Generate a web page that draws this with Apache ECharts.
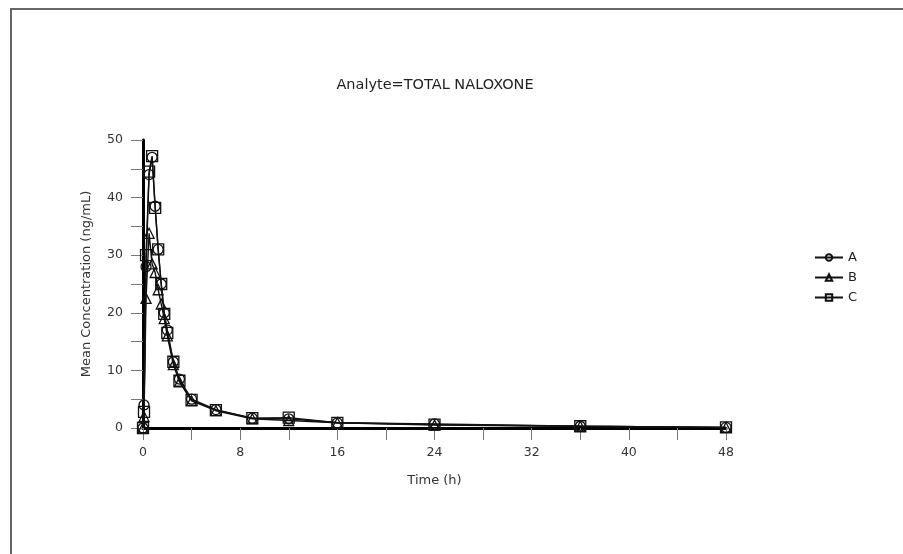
<!DOCTYPE html>
<html>
<head>
<meta charset="utf-8">
<script src="https://cdn.jsdelivr.net/npm/echarts@6/dist/echarts.min.js"></script>
<style>
  html, body { margin: 0; padding: 0; background: #fff; }
  #chart { width: 903px; height: 554px; }
</style>
</head>
<body>
<div id="chart"></div>
<script>
// Sampling times (h)
const times = [0, 0.083, 0.25, 0.5, 0.75, 1, 1.25, 1.5, 1.75, 2, 2.5, 3, 4, 6, 9, 12, 16, 24, 36, 48];

// Mean concentrations (ng/mL) per treatment
const seriesA = [0, 4.0, 28.0, 44.0, 47.0, 38.5, 31.0, 25.0, 20.0, 17.0, 11.5, 8.5, 5.0, 3.2, 1.7, 1.6, 0.9, 0.7, 0.3, 0.1];
const seriesB = [0, 2.0, 22.5, 33.8, 28.5, 27.0, 24.0, 21.5, 19.0, 16.0, 11.0, 8.0, 4.7, 3.0, 1.6, 1.3, 0.9, 0.5, 0.3, 0.1];
const seriesC = [0, 2.8, 30.0, 44.5, 47.2, 38.2, 31.0, 25.0, 19.8, 16.5, 11.5, 8.2, 4.9, 3.1, 1.7, 1.8, 0.9, 0.6, 0.3, 0.1];

const seriesNames = ['A', 'B', 'C'];
const seriesSymbols = ['circle', 'triangle', 'rect'];
const seriesValues = [seriesA, seriesB, seriesC];

const xTicks = { min: 0, max: 48, interval: 8 };
const yTicks = { min: 0, max: 50, interval: 10 };

const textColor = '#333';
const fontFamily = 'DejaVu Sans, Verdana, sans-serif';

const chart = echarts.init(document.getElementById('chart'), null, { renderer: 'canvas' });

const series = seriesNames.map((name, i) => ({
  name: name,
  type: 'line',
  data: times.map((t, k) => [t, seriesValues[i][k]]),
  symbol: seriesSymbols[i],
  symbolSize: seriesSymbols[i] === 'rect' ? 11 : 10,
  showAllSymbol: true,
  lineStyle: { color: '#111', width: 1.4 },
  itemStyle: { color: 'rgba(255,255,255,0)', borderColor: '#111', borderWidth: 1.3 },
  emphasis: { disabled: true },
  animation: false,
  z: 3 + i
}));

chart.setOption({
  animation: false,
  backgroundColor: '#fff',
  title: {
    text: 'Analyte=TOTAL NALOXONE',
    left: 430,
    top: 73,
    textAlign: 'center',
    textStyle: { fontFamily: fontFamily, fontSize: 14.5, fontWeight: 'normal', color: '#222' }
  },
  legend: {
    orient: 'vertical',
    left: 809,
    top: 246,
    itemWidth: 28,
    itemHeight: 8,
    itemGap: 7,
    data: seriesNames,
    textStyle: { fontFamily: fontFamily, fontSize: 13, color: '#222' }
  },
  grid: { left: 143, right: 177, top: 140, bottom: 126, containLabel: false },
  xAxis: {
    type: 'value',
    min: xTicks.min,
    max: xTicks.max,
    interval: xTicks.interval,
    name: 'Time (h)',
    nameLocation: 'middle',
    nameGap: 46,
    nameTextStyle: { fontFamily: fontFamily, fontSize: 13, color: textColor },
    axisLine: { show: true, onZero: false, lineStyle: { color: '#000', width: 3 } },
    axisTick: { show: true, length: 12, inside: false, lineStyle: { color: '#777', width: 1 } },
    minorTick: { show: true, splitNumber: 2, length: 12, lineStyle: { color: '#777', width: 1 } },
    axisLabel: { fontFamily: fontFamily, fontSize: 12.5, color: textColor, margin: 18 },
    splitLine: { show: false }
  },
  yAxis: {
    type: 'value',
    min: yTicks.min,
    max: yTicks.max,
    interval: yTicks.interval,
    name: 'Mean Concentration (ng/mL)',
    nameLocation: 'middle',
    nameGap: 50,
    nameTextStyle: { fontFamily: fontFamily, fontSize: 13, color: textColor },
    axisLine: { show: true, onZero: false, lineStyle: { color: '#000', width: 3 } },
    axisTick: { show: true, length: 12, inside: false, lineStyle: { color: '#777', width: 1 } },
    minorTick: { show: true, splitNumber: 2, length: 12, lineStyle: { color: '#777', width: 1 } },
    axisLabel: { fontFamily: fontFamily, fontSize: 12.5, color: textColor, margin: 20 },
    splitLine: { show: false }
  },
  graphic: [
    {
      type: 'polyline',
      shape: { points: [[11, 554], [11, 9], [903, 9]] },
      style: { stroke: '#666', lineWidth: 2, fill: null },
      silent: true
    }
  ],
  series: series
});
</script>
</body>
</html>
